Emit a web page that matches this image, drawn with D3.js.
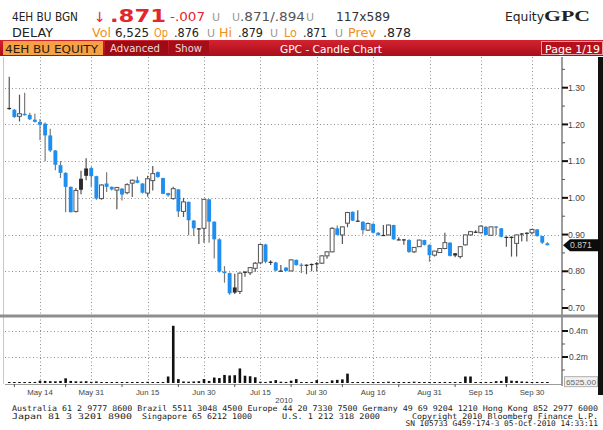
<!DOCTYPE html>
<html><head><meta charset="utf-8">
<script src="https://cdn.jsdelivr.net/npm/d3@7"></script>
<style>body{margin:0;background:#fff}svg{display:block}</style>
</head><body><svg id="c" width="603" height="430"></svg>
<script>
// ---------- DATA ----------
const dates = ["05-05","05-07","05-10","05-11","05-12","05-13","05-14","05-17","05-18","05-19","05-20","05-21","05-25","05-26","05-27","05-28","05-31",
"06-01","06-02","06-03","06-04","06-07","06-08","06-09","06-10","06-11","06-14","06-15","06-16","06-17","06-18","06-21","06-22","06-23","06-24","06-25","06-28","06-29","06-30",
"07-01","07-02","07-05","07-06","07-07","07-08","07-09","07-12","07-13","07-14","07-15","07-16","07-19","07-20","07-21","07-22","07-23","07-26","07-27","07-28","07-29","07-30",
"08-02","08-03","08-04","08-05","08-06","08-09","08-10","08-11","08-12","08-13","08-16","08-17","08-18","08-19","08-20","08-23","08-24","08-25","08-26","08-27","08-30","08-31",
"09-01","09-02","09-03","09-07","09-08","09-09","09-10","09-13","09-14","09-15","09-16","09-17","09-20","09-21","09-23","09-24","09-27","09-28","09-29","09-30",
"10-01","10-04","10-05"];
const open  = [1.245,1.240,1.222,1.229,1.226,1.213,1.207,1.202,1.170,1.129,1.089,1.068,1.030,0.963,1.052,1.080,1.081,1.059,0.998,1.039,1.030,1.021,1.025,1.014,1.040,1.048,1.039,1.013,1.047,1.070,1.054,1.013,0.998,1.023,0.963,0.989,0.938,0.917,0.917,0.996,0.935,0.887,0.799,0.795,0.756,0.745,0.799,0.796,0.808,0.823,0.873,0.826,0.824,0.802,0.810,0.801,0.831,0.818,0.818,0.820,0.822,0.822,0.842,0.853,0.917,0.899,0.931,0.962,0.938,0.935,0.912,0.929,0.905,0.899,0.899,0.926,0.887,0.887,0.885,0.853,0.867,0.885,0.872,0.844,0.851,0.862,0.878,0.849,0.840,0.872,0.899,0.908,0.905,0.921,0.898,0.922,0.917,0.894,0.894,0.876,0.903,0.905,0.905,0.914,0.896,0.876];
const high  = [1.330,1.242,1.281,1.286,1.232,1.229,1.215,1.205,1.188,1.130,1.100,1.070,1.031,1.027,1.074,1.108,1.085,1.060,1.037,1.070,1.031,1.030,1.027,1.040,1.050,1.058,1.040,1.060,1.087,1.072,1.055,1.014,1.030,1.024,1.000,0.990,0.940,0.918,0.997,0.997,0.936,0.890,0.814,0.797,0.793,0.797,0.800,0.811,0.825,0.875,0.875,0.830,0.826,0.817,0.812,0.832,0.832,0.822,0.819,0.821,0.825,0.843,0.854,0.920,0.925,0.922,0.962,0.963,0.966,0.936,0.933,0.931,0.906,0.926,0.927,0.927,0.893,0.888,0.887,0.866,0.886,0.886,0.873,0.856,0.863,0.905,0.879,0.850,0.868,0.900,0.910,0.912,0.925,0.923,0.922,0.923,0.918,0.895,0.895,0.900,0.904,0.906,0.916,0.915,0.897,0.879];
const low   = [1.240,1.218,1.208,1.224,1.212,1.205,1.157,1.100,1.125,1.075,1.054,0.961,0.960,0.960,1.010,1.048,1.030,0.995,0.995,1.016,1.020,0.969,0.993,1.010,1.002,1.040,1.012,1.003,1.020,1.055,1.010,1.003,0.995,0.948,0.948,0.898,0.896,0.874,0.878,0.878,0.835,0.797,0.769,0.736,0.738,0.738,0.785,0.790,0.799,0.820,0.822,0.817,0.800,0.800,0.800,0.800,0.815,0.795,0.792,0.800,0.800,0.820,0.834,0.852,0.898,0.874,0.920,0.937,0.937,0.900,0.910,0.903,0.897,0.898,0.898,0.886,0.885,0.872,0.850,0.850,0.866,0.870,0.826,0.840,0.850,0.860,0.840,0.838,0.835,0.870,0.897,0.904,0.903,0.898,0.896,0.899,0.892,0.867,0.840,0.840,0.881,0.881,0.900,0.894,0.874,0.871];
const close = [1.242,1.220,1.229,1.225,1.214,1.207,1.199,1.170,1.129,1.090,1.068,1.030,0.961,1.020,1.022,1.060,1.059,0.998,1.035,1.030,1.023,1.028,1.009,1.036,1.048,1.041,1.014,1.052,1.066,1.057,1.011,1.007,1.025,0.963,0.989,0.939,0.917,0.917,0.996,0.935,0.887,0.799,0.795,0.740,0.742,0.795,0.799,0.810,0.822,0.873,0.826,0.826,0.802,0.802,0.801,0.831,0.817,0.815,0.818,0.820,0.822,0.842,0.853,0.917,0.899,0.921,0.960,0.938,0.938,0.912,0.930,0.905,0.899,0.899,0.926,0.887,0.887,0.887,0.853,0.865,0.885,0.872,0.844,0.855,0.862,0.878,0.842,0.843,0.867,0.899,0.908,0.908,0.923,0.899,0.921,0.920,0.894,0.894,0.894,0.899,0.903,0.905,0.914,0.896,0.878,0.871];
const volume = [5000,6000,5000,6000,7000,8000,18000,16000,14000,13000,16000,36000,16000,13000,12000,14000,9000,12000,6000,5000,6000,8000,7000,8000,6000,8000,7000,9000,6000,5000,6000,50000,440000,30000,12000,10000,12000,14000,30000,16000,42000,38000,62000,58000,60000,112000,56000,52000,44000,10000,6000,14000,22000,10000,8000,18000,30000,8000,6000,8000,22000,8000,6000,20000,24000,28000,72000,6000,5000,6000,5000,5000,6000,5000,10000,6000,8000,5000,6000,10000,5000,6000,8000,5000,6000,8000,6000,5000,6000,50000,50000,6000,5000,8000,6000,14000,16000,50000,18000,16000,12000,10000,8000,8000,6000,6525];
const xTickDates  = ["05-14","05-31","06-15","06-30","07-15","07-30","08-16","08-31","09-15","09-30"];
const xTickLabels = ["May 14","May 31","Jun 15","Jun 30","Jul 15","Jul 30","Aug 16","Aug 31","Sep 15","Sep 30"];
const xMinorDates = ["05-07","05-21","06-08","06-23","07-08","07-23","08-06","08-23","09-08","09-23"];
const priceTicks = [0.70,0.80,0.90,1.00,1.10,1.20,1.30];
const priceMinor = [0.75,0.85,0.95,1.05,1.15,1.25,1.35];
const volTicks = [200000,400000];
const volTickLabels = ["0.2m","0.4m"];
const volMinor = [100000,300000];
const lastPrice = 0.871;
const lastVolLabel = "6525.00";

// ---------- SETUP ----------
const svg = d3.select("#c");
const FONT = "'DejaVu Sans', sans-serif";
const SANS = "'Liberation Sans', Arial, sans-serif";
const MONO = "'DejaVu Sans Mono', monospace";
const BLUE = "#1f8ef1";

const x = d3.scalePoint().domain(dates).range([9.25, 547.375]);
const y = d3.scaleLinear().domain([0.70, 1.30]).range([308, 87.7]);
const yv = d3.scaleLinear().domain([0, 400000]).range([383, 331]);
const AX = 562;   // right axis x
const PL = 5;     // plot left

function txt(g, xx, yy, s, o) {
  o = o || {};
  const t = g.append("text").attr("x", xx).attr("y", yy).text(s)
    .attr("font-family", o.ff || FONT).attr("font-size", o.fs || 11)
    .attr("fill", o.fill || "#222");
  if (o.fw) t.attr("font-weight", o.fw);
  if (o.tl) t.attr("textLength", o.tl).attr("lengthAdjust", "spacingAndGlyphs");
  if (o.anchor) t.attr("text-anchor", o.anchor);
  return t;
}

// ---------- HEADER ----------
const hd = svg.append("g");
const RED = "#e3262e", ORG = "#ef8f22", GRY = "#9a9a9a";
txt(hd, 12, 21, "4EH BU BGN", {tl: 66, fs: 11.5});
txt(hd, 94, 22, "\u2193", {fill: RED, fs: 14});
txt(hd, 110, 22, ".871", {fill: RED, fs: 17, fw: "bold", tl: 56});
txt(hd, 170, 21, "-.007", {fill: RED, fs: 11.5, tl: 35});
txt(hd, 212, 21, "U", {fill: GRY, fs: 11});
txt(hd, 232, 21, "U", {fill: GRY, fs: 11});
txt(hd, 240, 21, ".871/.894", {fill: "#555", fs: 11.5, tl: 65});
txt(hd, 306, 21, "U", {fill: GRY, fs: 11});
txt(hd, 336, 21, "117x589", {fill: "#333", fs: 11.5, tl: 54});
txt(hd, 505, 21, "Equity", {fill: "#222", fs: 12, tl: 39});
txt(hd, 544, 21, "GPC", {fill: "#222", fs: 14, fw: "bold", ff: "'Liberation Serif', serif", tl: 46});

txt(hd, 12, 37, "DELAY", {tl: 41, fs: 11.5});
txt(hd, 92, 37, "Vol", {fill: ORG, tl: 19, fs: 11.5});
txt(hd, 115, 37, "6,525", {tl: 34, fs: 11.5});
txt(hd, 154, 37, "Op", {fill: ORG, tl: 14, fs: 11.5});
txt(hd, 174, 37, ".876", {tl: 25, fs: 11.5});
txt(hd, 207, 37, "U", {fill: GRY, fs: 11});
txt(hd, 219, 37, "Hi", {fill: ORG, tl: 13, fs: 11.5});
txt(hd, 238, 37, ".879", {tl: 25, fs: 11.5});
txt(hd, 270, 37, "U", {fill: GRY, fs: 11});
txt(hd, 284, 37, "Lo", {fill: ORG, tl: 13, fs: 11.5});
txt(hd, 303, 37, ".871", {tl: 24, fs: 11.5});
txt(hd, 335, 37, "U", {fill: GRY, fs: 11});
txt(hd, 348, 37, "Prev", {fill: ORG, tl: 28, fs: 11.5});
txt(hd, 383, 37, ".878", {tl: 28, fs: 11.5});

// red bar
const defs = svg.append("defs");
const gr = defs.append("linearGradient").attr("id", "rb").attr("x1", 0).attr("x2", 0).attr("y1", 0).attr("y2", 1);
gr.append("stop").attr("offset", 0).attr("stop-color", "#d42230");
gr.append("stop").attr("offset", 1).attr("stop-color", "#a80e19");
hd.append("rect").attr("x", 0).attr("y", 40).attr("width", 603).attr("height", 16).attr("fill", "url(#rb)");
hd.append("rect").attr("x", 3).attr("y", 41).attr("width", 100).attr("height", 14).attr("fill", "#f6a144");
txt(hd, 5, 52.5, "4EH BU EQUITY", {fs: 11, tl: 93, fill: "#2a1a10"});
hd.append("rect").attr("x", 105).attr("y", 41).attr("width", 63).attr("height", 14).attr("fill", "#9c0c15");
txt(hd, 110, 52, "Advanced", {fs: 10.5, tl: 50, fill: "#f0d8d8"});
hd.append("rect").attr("x", 169).attr("y", 41).attr("width", 40).attr("height", 14).attr("fill", "#a30e18");
txt(hd, 175, 52, "Show", {fs: 10.5, tl: 27, fill: "#f0d8d8"});
txt(hd, 331, 52.5, "GPC - Candle Chart", {fs: 11, tl: 102, fill: "#fff", anchor: "middle"});
hd.append("rect").attr("x", 541.5).attr("y", 41.5).attr("width", 61).attr("height", 13).attr("fill", "#b3101c").attr("stroke", "#e8a0a0").attr("stroke-width", 1);
txt(hd, 545, 52.5, "Page 1/19", {fs: 11, tl: 55, fill: "#fff"});

// ---------- FRAME / GRID ----------
const grid = svg.append("g").attr("stroke", "#8e8e8e").attr("stroke-dasharray", "1,2.5").attr("stroke-width", 1);
grid.selectAll(".hg").data(priceTicks.filter(d => d > 0.75)).join("line")
  .attr("x1", PL).attr("x2", AX).attr("y1", d => Math.round(y(d)) + 0.5).attr("y2", d => Math.round(y(d)) + 0.5);
grid.selectAll(".vg").data(volTicks).join("line")
  .attr("x1", PL).attr("x2", AX).attr("y1", d => Math.round(yv(d)) + 0.5).attr("y2", d => Math.round(yv(d)) + 0.5);
grid.selectAll(".xg").data(xTickDates).join("line")
  .attr("x1", d => Math.round(x(d)) + 0.5).attr("x2", d => Math.round(x(d)) + 0.5).attr("y1", 57).attr("y2", 384);

// left border
svg.append("line").attr("x1", 3.5).attr("x2", 3.5).attr("y1", 57).attr("y2", 384).attr("stroke", "#c8c8c8");
// right axis line
svg.append("line").attr("x1", AX).attr("x2", AX).attr("y1", 57).attr("y2", 386).attr("stroke", "#9c9c9c").attr("stroke-width", 2);
// black right strip
svg.append("rect").attr("x", 598).attr("y", 57).attr("width", 5).attr("height", 338).attr("fill", "#111");

// ---------- CANDLES ----------
const bw = 3.9;
const cd = dates.map((d, i) => ({d, o: open[i], h: high[i], l: low[i], c: close[i], pc: i ? close[i - 1] : close[i]}));
const cg = svg.append("g");
cg.selectAll(".wick").data(cd).join("line")
  .attr("x1", d => x(d.d)).attr("x2", d => x(d.d))
  .attr("y1", d => y(d.h)).attr("y2", d => y(d.l))
  .attr("stroke", d => d.c < d.pc ? "#7a7a7a" : "#555").attr("stroke-width", 1.2);
cg.selectAll(".body").data(cd).join("rect")
  .attr("x", d => x(d.d) - bw / 2)
  .attr("width", bw)
  .attr("y", d => y(Math.max(d.o, d.c)))
  .attr("height", d => Math.max(1.2, Math.abs(y(d.o) - y(d.c))))
  .attr("fill", d => {
    const col = d.c < d.pc ? BLUE : "#2a2a2a";
    if (d.c > d.o) return "#fff";
    if (d.c === d.o) return "#2a2a2a";
    return col;
  })
  .attr("stroke", d => d.c > d.o ? (d.c < d.pc ? BLUE : "#555") : "none")
  .attr("stroke-width", 1);

// ---------- PRICE AXIS ----------
const pa = svg.append("g");
const clip = defs.append("clipPath").attr("id", "pc");
clip.append("rect").attr("x", 0).attr("y", 57).attr("width", 603).attr("height", 256);
const pal = pa.append("g").attr("clip-path", "url(#pc)");
pal.selectAll(".pt").data(priceTicks).join("line")
  .attr("x1", AX).attr("x2", AX + 6).attr("y1", d => y(d)).attr("y2", d => y(d))
  .attr("stroke", "#111").attr("stroke-width", 2);
pal.selectAll(".pm").data(priceMinor).join("line")
  .attr("x1", AX).attr("x2", AX + 3).attr("y1", d => y(d)).attr("y2", d => y(d))
  .attr("stroke", "#555").attr("stroke-width", 1);
pal.selectAll(".pl").data(priceTicks).join("text")
  .attr("x", 568).attr("y", d => y(d) + 3.2).text(d => d3.format(".2f")(d))
  .attr("font-family", SANS).attr("font-size", 8.7).attr("fill", "#444");

// last price flag
const yl = y(lastPrice);
pa.append("path").attr("d", `M${AX + 1},${yl} L${AX + 8},${yl - 6} L600,${yl - 6} L600,${yl + 6} L${AX + 8},${yl + 6} Z`).attr("fill", "#0c0c0c");
pa.append("text").attr("x", 570).attr("y", yl + 3.2).text(lastPrice.toFixed(3))
  .attr("font-family", SANS).attr("font-size", 8.7).attr("fill", "#cfcfcf");

// separator
svg.append("rect").attr("x", 0).attr("y", 314.5).attr("width", 598).attr("height", 3).attr("fill", "#8e8e8e");

// ---------- VOLUME ----------
const vg = svg.append("g");
vg.selectAll(".vb").data(dates).join("rect")
  .attr("x", d => x(d) - 1.3).attr("width", 2.6)
  .attr("y", (d, i) => Math.min(yv(volume[i]), yv(0) - 1))
  .attr("height", (d, i) => Math.max(1, yv(0) - yv(volume[i])))
  .attr("fill", "#111");
vg.selectAll(".vt").data(volTicks).join("line")
  .attr("x1", AX).attr("x2", AX + 6).attr("y1", d => yv(d)).attr("y2", d => yv(d))
  .attr("stroke", "#111").attr("stroke-width", 2);
vg.selectAll(".vm").data(volMinor).join("line")
  .attr("x1", AX).attr("x2", AX + 3).attr("y1", d => yv(d)).attr("y2", d => yv(d))
  .attr("stroke", "#555");
vg.selectAll(".vl").data(volTicks).join("text")
  .attr("x", 569).attr("y", d => yv(d) + 3).text((d, i) => volTickLabels[i])
  .attr("font-family", SANS).attr("font-size", 8.5).attr("fill", "#444");
const yvl = yv(volume[volume.length - 1]);
vg.append("rect").attr("x", 564.5).attr("y", yvl - 5.5).attr("width", 33).attr("height", 10).attr("fill", "#f0f0f0").attr("stroke", "#b0b0b0");
vg.append("text").attr("x", 566).attr("y", yvl + 2.6).text(lastVolLabel)
  .attr("font-family", SANS).attr("font-size", 7.6).attr("fill", "#666").attr("textLength", 30).attr("lengthAdjust", "spacingAndGlyphs");

// ---------- X AXIS ----------
svg.append("line").attr("x1", PL).attr("x2", AX).attr("y1", 384.5).attr("y2", 384.5).attr("stroke", "#9c9c9c");
const xa = svg.append("g");
xa.selectAll(".xm").data(xMinorDates).join("line")
  .attr("x1", d => x(d)).attr("x2", d => x(d)).attr("y1", 384).attr("y2", 387)
  .attr("stroke", "#555");
xa.selectAll(".xl").data(xTickDates).join("text")
  .attr("x", d => x(d)).attr("y", 395).attr("text-anchor", "middle")
  .text((d, i) => xTickLabels[i])
  .attr("font-family", SANS).attr("font-size", 7.8).attr("fill", "#444");
xa.append("text").attr("x", 284).attr("y", 403).attr("text-anchor", "middle").text("2010")
  .attr("font-family", SANS).attr("font-size", 7.8).attr("fill", "#444");

// ---------- FOOTER ----------
const ft = svg.append("g");
const fo = {ff: MONO, fs: 7.8, fill: "#222"};
txt(ft, 12, 411, "Australia 61 2 9777 8600 Brazil 5511 3048 4500 Europe 44 20 7330 7500 Germany 49 69 9204 1210 Hong Kong 852 2977 6000", Object.assign({tl: 586}, fo));
txt(ft, 12, 418.5, "Japan 81 3 3201 8900", Object.assign({tl: 120}, fo));
txt(ft, 142, 418.5, "Singapore 65 6212 1000", Object.assign({tl: 110}, fo));
txt(ft, 282, 418.5, "U.S. 1 212 318 2000", Object.assign({tl: 98}, fo));
txt(ft, 412, 418.5, "Copyright 2010 Bloomberg Finance L.P.", Object.assign({tl: 186}, fo));
txt(ft, 598, 426, "SN 105733 G459-174-3 05-Oct-2010 14:33:11", Object.assign({anchor: "end"}, fo));
</script></body></html>
